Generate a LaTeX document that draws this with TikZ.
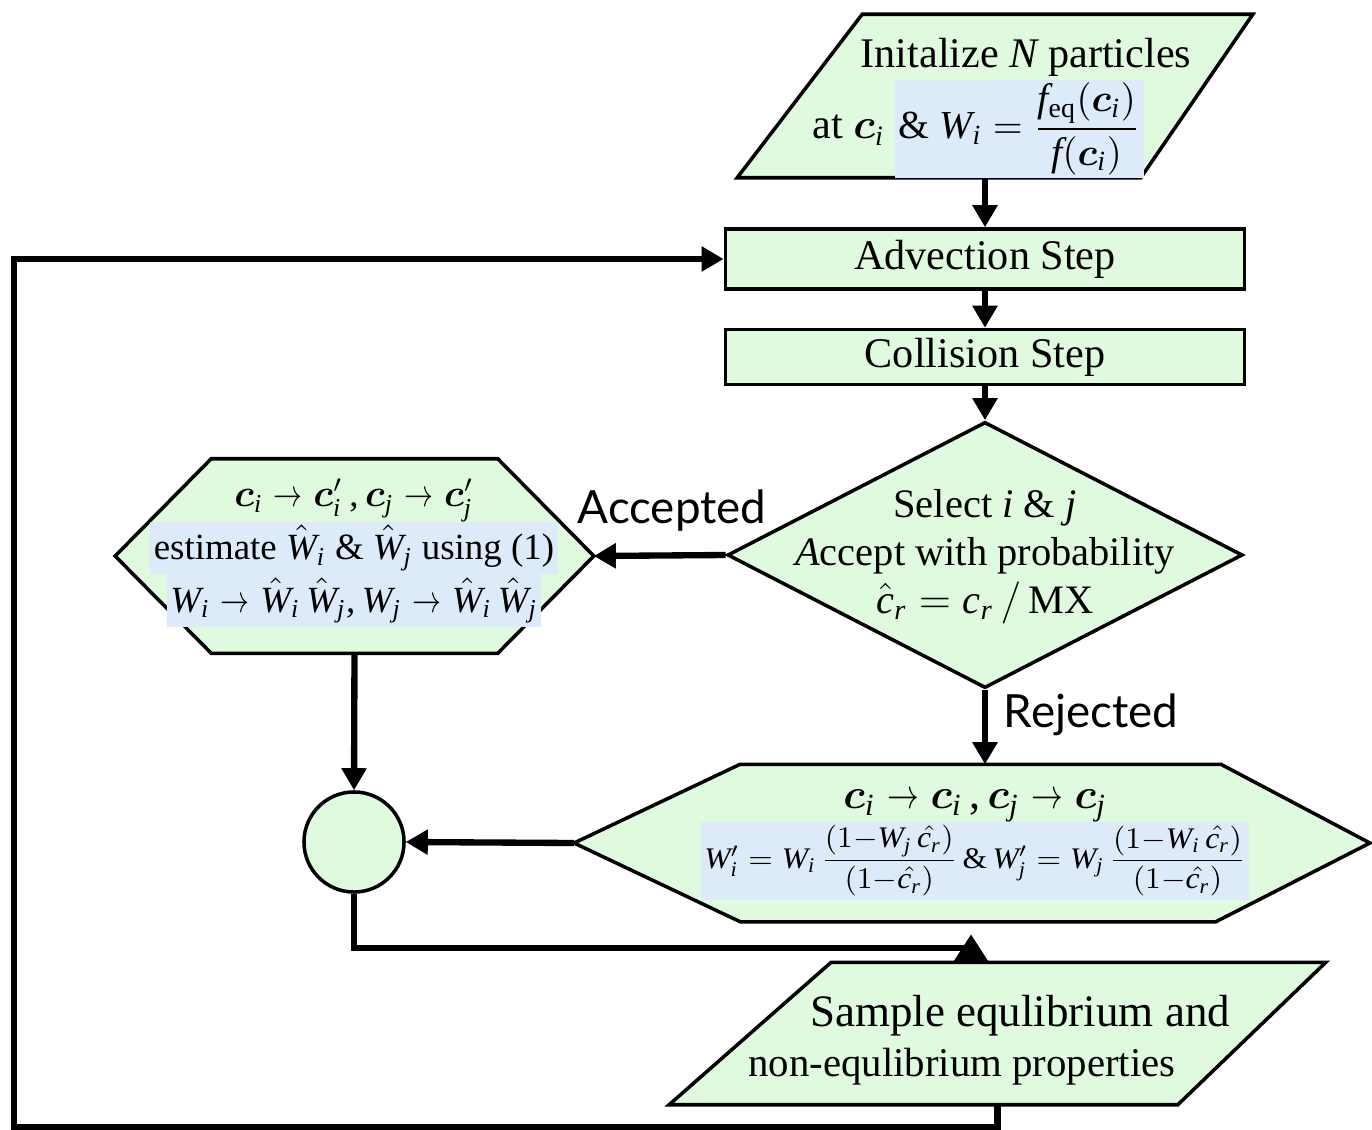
\documentclass[tikz,border=0pt]{standalone}
\usepackage{amsmath}
\usepackage{bm}
\usepackage{graphicx}
\usepackage{fontspec}
\setmainfont{Liberation Serif}
\newfontfamily\labelfont{Lato}
% Times-like italic letters in math
\DeclareSymbolFont{letters}{TU}{\rmdefault}{m}{it}
\SetSymbolFont{letters}{bold}{TU}{\rmdefault}{b}{it}
\mathcode`\,="602C
\newcommand{\sto}{\mathrel{\scalebox{0.75}[1]{$\rightarrow$}}}
\usetikzlibrary{shapes.geometric,arrows.meta}

\definecolor{stepgreen}{RGB}{224,250,224}
\definecolor{eqblue}{RGB}{220,234,250}
\setlength{\fboxsep}{1pt}

\tikzset{
  box/.style={draw, line width=1pt, fill=stepgreen, inner sep=0pt},
  frame/.style={inner sep=0pt},
  txt/.style={align=center, inner sep=0pt},
  flow/.style={line width=1.8pt, -{Triangle[length=2.2mm,width=2.4mm]}},
  wire/.style={line width=1.8pt},
  branch/.style={font=\labelfont\fontsize{13}{15}\selectfont, anchor=base}
}

\begin{document}
\begin{tikzpicture}[x=0.01cm, y=-0.01cm]
    \useasboundingbox (0,0) rectangle (1372,1130);

    % Shapes
    \node[frame, minimum width=5.14cm, minimum height=1.62cm] (init) at (995,96) {};
    \path[box] ([xshift=1.25cm]init.north west) -- (init.north east)
        -- ([xshift=-1.12cm]init.south east) -- (init.south west) -- cycle;
    \node[box, minimum width=5.19cm, minimum height=0.6cm] (adv) at (985,259) {};
    \node[box, minimum width=5.19cm, minimum height=0.55cm] (coll) at (985,357) {};
    \node[box, diamond, minimum width=5.15cm, minimum height=2.66cm] (sel) at (985,555) {};
    \node[frame, minimum width=4.77cm, minimum height=1.93cm] (acc) at (354.5,556) {};
    \path[box] (acc.west) -- ([xshift=0.96cm]acc.north west) -- ([xshift=-0.96cm]acc.north east)
        -- (acc.east) -- ([xshift=-0.96cm]acc.south east) -- ([xshift=0.96cm]acc.south west) -- cycle;
    \node[frame, minimum width=7.94cm, minimum height=1.56cm] (rej) at (972,843) {};
    \path[box] (rej.west) -- ([xshift=1.66cm]rej.north west) -- ([xshift=-1.49cm]rej.north east)
        -- (rej.east) -- ([xshift=-1.54cm]rej.south east) -- ([xshift=1.66cm]rej.south west) -- cycle;
    \node[box, circle, minimum size=1cm] (circ) at (354,842) {};
    \node[frame, minimum width=6.55cm, minimum height=1.41cm] (sample) at (997.5,1033.5) {};
    \path[box] ([xshift=1.62cm]sample.north west) -- (sample.north east)
        -- ([xshift=-1.48cm]sample.south east) -- (sample.south west) -- cycle;

    % Texts
    \node[txt, font=\fontsize{12}{14}\selectfont] (initT) at (978,108)
        {\hspace*{0.96cm}Initalize $N$ particles\\
         at $\bm{c}_i$\ \colorbox{eqblue}{\fontsize{11.3}{13}\selectfont\&~$W_i = \dfrac{f_{\mathrm{eq}}(\bm{c}_i)}{f(\bm{c}_i)}$}};
    \node[txt, font=\fontsize{12}{14}\selectfont] (advT) at (adv) {Advection Step};
    \node[txt, font=\fontsize{12}{14}\selectfont] (collT) at (coll) {Collision Step};
    \node[txt, font=\fontsize{11.5}{13.6}\selectfont] (selT) at (985,557)
        {Select $i$ \& $j$\\ \textit{A}ccept with probability\\ $\hat{c}_r = c_r\,/\,\mathrm{MX}$};
    \node[txt, font={\fontsize{10.5}{13}\selectfont\setlength{\lineskip}{0pt}}] (accT) at (354,553)
        {$\bm{c}_i \sto \bm{c}'_i\,, \bm{c}_j \sto \bm{c}'_j$\\
         \colorbox{eqblue}{estimate $\hat{W}_i$ \& $\hat{W}_j$ using (1)}\\
         \colorbox{eqblue}{$W_i \sto \hat{W}_i\,\hat{W}_j, W_j \sto \hat{W}_i\,\hat{W}_j$}};
    \node[txt, font=\fontsize{12.5}{15}\selectfont] (rejT) at (975,845)
        {$\bm{c}_i \sto \bm{c}_i\,, \bm{c}_j \sto \bm{c}_j$\\[-1pt]
         \colorbox{eqblue}{\fontsize{10}{12}\selectfont\scalebox{0.9}[0.85]{$W'_i = W_i\,\dfrac{(1{-}W_j\,\hat{c_r})}{(1{-}\hat{c_r})}$\,\&\,$W'_j = W_j\,\dfrac{(1{-}W_i\,\hat{c_r})}{(1{-}\hat{c_r})}$}}};
    \node[txt, font=\fontsize{12.8}{14.2}\selectfont] (sampleT) at (962,1040)
        {\hspace*{1.16cm}Sample equlibrium and\\ \fontsize{11.6}{14.2}\selectfont non-equlibrium properties};

    % Branch labels
    \node[branch] (accL) at (672,523) {Accepted};
    \node[branch] (rejL) at (1091,727) {Rejected};

    % Main flow
    \draw[flow] (init.south -| adv.north) -- (adv.north);
    \draw[flow] (adv) -- (coll);
    \draw[flow] (coll) -- (sel);
    \draw[flow] (sel.west) -- (acc.east);
    \draw[flow] (sel.south) -- (sel.south |- rej.north);
    \draw[flow] (rej.west) -- (circ.east);
    \draw[flow] (acc.south) -- (circ.north);

    % Merge into sampling
    \coordinate (merge) at (971,948);
    \draw[wire] (circ.south) |- (merge);
    \draw[line width=1.8pt, -{Triangle[length=2.8mm,width=3.4mm]}] (sample.north -| merge) -- ++(0,-28);

    % Loop back to advection
    \draw[flow] (sample.south) |- (14,1127) |- (adv.west);
\end{tikzpicture}
\end{document}
